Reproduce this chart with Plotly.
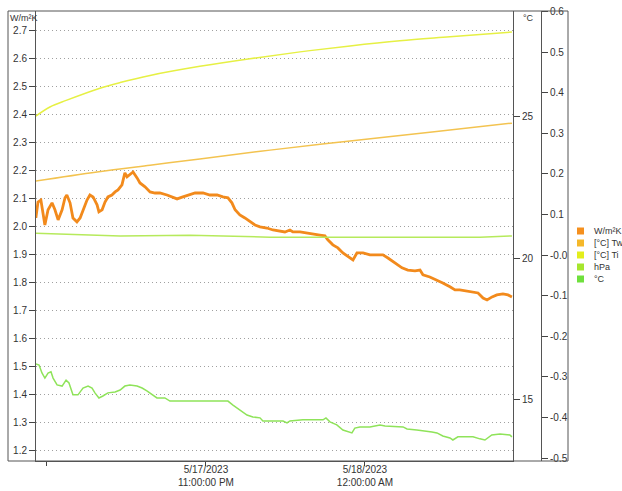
import pandas as pd
import plotly.graph_objects as go

# ---------------- data (minutes relative to 5/17/2023 10:00 PM) ----------------
T0 = pd.Timestamp("2023-05-17 22:00:00")

wmk_min = [-4.2, -3.4, -2.3, -1.5, -0.8, 0.4, 1.9, 3.0, 4.2, 5.7, 6.8, 7.5, 8.7, 9.8, 11.3, 12.5,
           13.6, 15.1, 16.2, 17.4, 18.9, 19.6, 20.8, 21.9, 23.0, 24.5, 25.7, 26.8, 28.3, 29.4,
           30.2, 31.3, 32.5, 34.0, 35.1, 37.0, 38.9, 40.8, 42.6, 45.3, 47.6, 49.1, 51.3, 54.0,
           55.9, 58.9, 61.5, 64.2, 66.4, 68.3, 69.8, 71.0, 72.8, 74.7, 76.6, 78.5, 80.4, 83.0,
           85.3, 87.9, 89.8, 91.7, 92.8, 95.5, 98.1, 100.4, 103.0, 104.9, 106.0, 107.9, 109.8,
           111.7, 113.6, 115.5, 117.0, 119.3, 121.9, 124.5, 126.8, 128.7, 131.3, 134.0, 136.2,
           138.9, 140.8, 141.9, 144.5, 147.2, 149.4, 152.1, 154.0, 155.8, 158.5, 160.8, 162.7,
           164.6, 166.1, 168.0, 169.8, 172.1, 174.0, 175.5]
wmk_val = [2.032, 2.089, 2.096, 2.050, 2.007, 2.061, 2.086, 2.061, 2.025, 2.061, 2.104, 2.114,
           2.086, 2.032, 2.018, 2.032, 2.061, 2.096, 2.114, 2.107, 2.079, 2.054, 2.061, 2.089,
           2.107, 2.114, 2.125, 2.132, 2.150, 2.193, 2.179, 2.186, 2.196, 2.175, 2.157, 2.143,
           2.125, 2.121, 2.121, 2.114, 2.107, 2.100, 2.107, 2.114, 2.121, 2.121, 2.114, 2.114,
           2.107, 2.104, 2.086, 2.061, 2.043, 2.032, 2.018, 2.007, 2.000, 1.996, 1.989, 1.986,
           1.982, 1.989, 1.982, 1.982, 1.979, 1.975, 1.971, 1.968, 1.954, 1.936, 1.925, 1.907,
           1.893, 1.882, 1.907, 1.907, 1.900, 1.900, 1.900, 1.889, 1.871, 1.854, 1.846, 1.843,
           1.846, 1.829, 1.821, 1.811, 1.800, 1.786, 1.775, 1.775, 1.771, 1.768, 1.764, 1.746,
           1.739, 1.750, 1.757, 1.761, 1.757, 1.750]

tw_min = [-4.2, 18.9, 38.9, 57.7, 84.2, 114.4, 144.5, 175.5]
tw_val = [22.71, 23.03, 23.27, 23.49, 23.80, 24.12, 24.43, 24.75]

ti_min = [-4.2, 1.1, 7.5, 20.0, 27.6, 38.9, 57.7, 76.6, 95.5, 114.4, 133.2, 152.1, 175.5]
ti_val = [25.00, 25.32, 25.56, 25.98, 26.18, 26.43, 26.75, 27.02, 27.26, 27.47, 27.65, 27.79, 27.96]

hpa_min = [-4.2, 12.5, 27.6, 54.0, 84.2, 115.5, 145.7, 163.4, 174.7, 175.5]
hpa_val = [0.054, 0.050, 0.047, 0.049, 0.044, 0.044, 0.044, 0.044, 0.047, 0.047]

tc_min = [-4.2, -3.0, -1.9, -0.8, 0.4, 1.5, 2.3, 3.8, 5.7, 7.2, 8.3, 9.8, 11.7, 13.6, 15.5, 17.0,
          18.1, 19.6, 21.1, 23.0, 25.7, 27.6, 29.4, 31.3, 34.0, 35.9, 37.7, 39.6, 41.5, 44.5,
          46.4, 50.2, 56.6, 62.6, 68.3, 70.2, 72.8, 75.5, 77.7, 80.4, 81.5, 86.0, 89.1, 90.6,
          91.7, 96.6, 104.2, 105.3, 106.8, 109.4, 111.7, 115.1, 116.2, 118.1, 121.9, 125.7,
          127.6, 134.4, 135.9, 139.6, 143.4, 145.3, 147.2, 149.4, 152.1, 153.2, 155.1, 158.5,
          160.8, 163.4, 165.3, 167.9, 171.0, 174.7, 175.5]
tc_val = [16.27, 16.23, 15.95, 15.77, 15.95, 15.99, 15.77, 15.53, 15.49, 15.70, 15.60, 15.18,
          15.18, 15.42, 15.49, 15.42, 15.25, 15.07, 15.14, 15.25, 15.28, 15.35, 15.49, 15.53,
          15.49, 15.42, 15.32, 15.18, 15.07, 15.07, 14.96, 14.96, 14.96, 14.96, 14.96, 14.82,
          14.65, 14.47, 14.40, 14.37, 14.26, 14.26, 14.26, 14.19, 14.26, 14.30, 14.30, 14.37,
          14.23, 14.12, 13.94, 13.84, 14.01, 14.05, 14.05, 14.12, 14.08, 14.05, 13.98, 13.94,
          13.91, 13.87, 13.84, 13.73, 13.66, 13.59, 13.70, 13.70, 13.70, 13.63, 13.59, 13.77,
          13.80, 13.77, 13.70]

legend_names = ["W/m²K", "[°C] Tw", "[°C] Ti", "hPa", "°C"]
legend_colors = ["#f5901e", "#f5b82a", "#e3ee1c", "#a6e62e", "#6fe03c"]

left_ticks = [1.2, 1.3, 1.4, 1.5, 1.6, 1.7, 1.8, 1.9, 2.0, 2.1, 2.2, 2.3, 2.4, 2.5, 2.6, 2.7]
degc_ticks = [15, 20, 25]
third_ticks = [-0.5, -0.4, -0.3, -0.2, -0.1, 0.0, 0.1, 0.2, 0.3, 0.4, 0.5, 0.6]
third_text = ["-0.5", "-0.4", "-0.3", "-0.2", "-0.1", "-0.0", "0.1", "0.2", "0.3", "0.4", "0.5", "0.6"]
x_tick_times = ["2023-05-17 22:00:00", "2023-05-17 23:00:00", "2023-05-18 00:00:00"]
x_tick_text = ["", "5/17/2023<br>11:00:00 PM", "5/18/2023<br>12:00:00 AM"]


def ts(mins):
    return [T0 + pd.Timedelta(minutes=m) for m in mins]


# ---------------- layout helpers (page body margin is removed below) ----------------
W, H = 622, 491
ML, MR, MT, MB = 36, 54, 11, 30
PW, PH = W - ML - MR, H - MT - MB


def px(x):
    # x in window pixels -> paper coordinate
    return (x - ML) / PW


def py(y):
    return 1 - (y - MT) / PH


FONT = "Liberation Sans, Arial, sans-serif"
TICKFONT = dict(family=FONT, size=10, color="#333")
GRIDDASH = "1px,3px"

fig = go.Figure()
fig.add_trace(go.Scatter(x=ts(tc_min), y=tc_val, yaxis="y2", mode="lines",
                         line=dict(color="#8fe35a", width=1.5), showlegend=False))
fig.add_trace(go.Scatter(x=ts(hpa_min), y=hpa_val, yaxis="y3", mode="lines",
                         line=dict(color="#b6ea5c", width=1.5), showlegend=False))
fig.add_trace(go.Scatter(x=ts(ti_min), y=ti_val, yaxis="y2", mode="lines", line_shape="spline",
                         line=dict(color="#e6f044", width=1.5), showlegend=False))
fig.add_trace(go.Scatter(x=ts(tw_min), y=tw_val, yaxis="y2", mode="lines", line_shape="spline",
                         line=dict(color="#f3c350", width=1.5), showlegend=False))
fig.add_trace(go.Scatter(x=ts(wmk_min), y=wmk_val, yaxis="y", mode="lines",
                         line=dict(color="#f28a1c", width=2.8), showlegend=False))

x_start = T0 + pd.Timedelta(minutes=-4.15)
x_end = T0 + pd.Timedelta(minutes=175.9)

fig.update_layout(
    width=W, height=H,
    margin=dict(l=ML, r=MR, t=MT, b=MB, autoexpand=False),
    paper_bgcolor="white", plot_bgcolor="white",
    showlegend=False,
    font=dict(family=FONT, size=10, color="#333"),
    xaxis=dict(domain=[0, px(513)], range=[x_start, x_end], tickvals=x_tick_times,
               ticktext=x_tick_text, ticks="outside", ticklen=4, tickcolor="#444",
               showline=True, linecolor="#555", linewidth=1, showgrid=False,
               zeroline=False, tickfont=TICKFONT, automargin=False,
               ticklabelstandoff=-5),
    yaxis=dict(range=[1.164, 2.771], tickvals=left_ticks, tickformat=".1f",
               ticks="outside", ticklen=6, tickcolor="#444", showline=True,
               linecolor="#555", linewidth=1, showgrid=True, gridcolor="#a0a0a0",
               griddash=GRIDDASH, gridwidth=1, zeroline=False, tickfont=TICKFONT,
               automargin=False),
    yaxis2=dict(overlaying="y", side="right", anchor="x", range=[12.85, 28.70],
                tickvals=degc_ticks, ticks="outside", ticklen=6, tickcolor="#444",
                showline=True, linecolor="#555", linewidth=1, showgrid=False,
                zeroline=False, tickfont=TICKFONT, automargin=False),
    yaxis3=dict(overlaying="y", side="right", anchor="free", position=px(541),
                range=[-0.507, 0.601], tickvals=third_ticks, ticktext=third_text,
                ticks="outside", ticklen=6, tickcolor="#444", showline=True,
                linecolor="#555", linewidth=1, showgrid=False, zeroline=False,
                tickfont=TICKFONT, automargin=False),
)

shapes = [dict(type="rect", xref="paper", yref="paper", x0=px(8), x1=px(568), y0=0, y1=1,
               line=dict(color="#555", width=1), fillcolor="rgba(0,0,0,0)")]
annotations = [
    dict(text="W/m²K", xref="paper", yref="paper", x=px(8), y=py(11), xanchor="left",
         yanchor="top", showarrow=False, font=dict(family=FONT, size=9, color="#333")),
    dict(text="°C", xref="paper", yref="paper", x=px(521), y=py(11), xanchor="left",
         yanchor="top", showarrow=False, font=dict(family=FONT, size=9, color="#333")),
]
for i, (name, col) in enumerate(zip(legend_names, legend_colors)):
    cy = 231 + 12 * i
    shapes.append(dict(type="rect", xref="paper", yref="paper", x0=px(577), x1=px(584),
                       y0=py(cy + 3.5), y1=py(cy - 3.5), line=dict(width=0), fillcolor=col))
    annotations.append(dict(text=name, xref="paper", yref="paper", x=px(592), y=py(cy),
                            xanchor="left", yanchor="middle", showarrow=False,
                            font=dict(family=FONT, size=9, color="#333")))
fig.update_layout(shapes=shapes, annotations=annotations)

fig.write_html("out.html", config={"displayModeBar": False},
               post_script="document.body.style.margin='0';")
